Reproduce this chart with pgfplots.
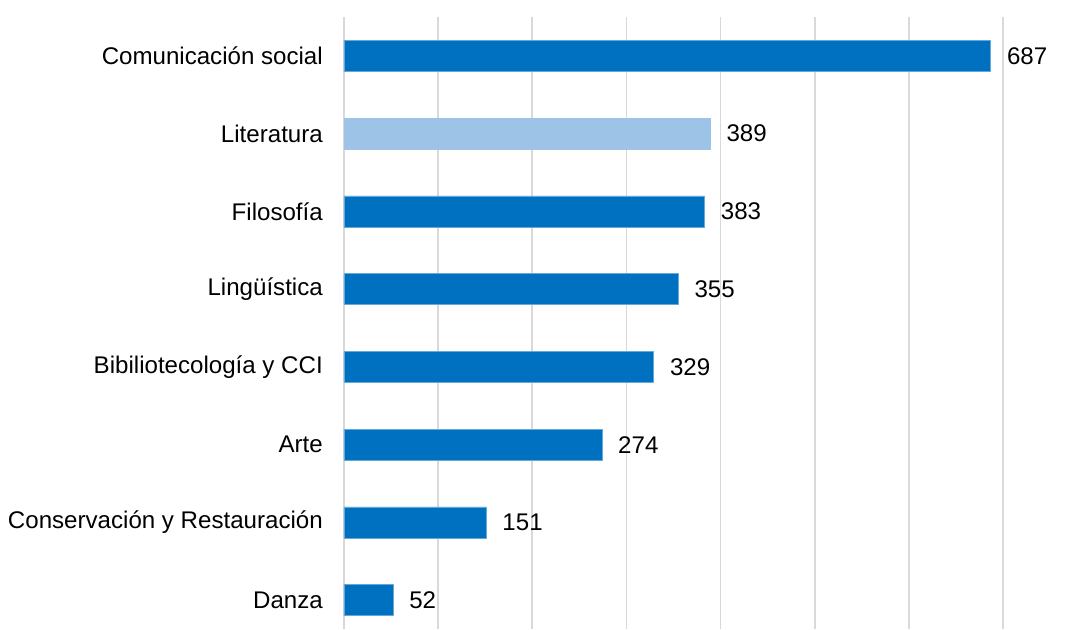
\documentclass[border=0pt]{standalone}
\usepackage{pgfplots}
\pgfplotsset{compat=1.18}
\usepackage{fontspec}
\setmainfont{Liberation Sans}
\definecolor{barblue}{HTML}{0070C0}
\definecolor{barlight}{HTML}{9DC3E6}
\definecolor{gridgray}{HTML}{D9D9D9}
\begin{document}
\fontsize{24.1}{28}\selectfont
\begin{tikzpicture}
\path[use as bounding box] (-344pt,0pt) rectangle (740pt,629pt);
\begin{axis}[
  at={(0pt,0pt)}, anchor=south west,
  scale only axis,
  width=659pt, height=612pt,
  xmin=0, xmax=700,
  ymin=-0.5, ymax=7.37,
  y dir=reverse,
  xbar, bar shift=0pt,
  bar width=31pt,
  xtick={0,100,...,700},
  xticklabels={},
  xmajorgrids,
  grid style={gridgray, line width=1.8pt},
  ytick={0,1,2,3,4,5,6,7},
  yticklabels={Comunicación social, Literatura, Filosofía, Lingüística, Bibiliotecología y CCI, Arte, Conservación y Restauración, Danza},
  yticklabel style={anchor=east, inner sep=0pt, xshift=-21pt, font=\fontsize{24.1}{28}\selectfont},
  major tick length=0pt,
  axis line style={draw=none},
  /pgf/number format/assume math mode=true,
  nodes near coords,
  every node near coord/.append style={anchor=west, inner sep=0pt, xshift=16pt, font=\fontsize{24.1}{28}\selectfont, color=black},
  clip=false,
]
\addplot[fill=barblue, draw=barblue!60!white, line width=0.6pt] coordinates {
  (687,0) (383,2) (355,3) (329,4) (274,5) (151,6) (52,7)
};
\addplot[fill=barlight, draw=barlight, line width=0.6pt] coordinates {
  (389,1)
};
\end{axis}
\end{tikzpicture}
\end{document}
